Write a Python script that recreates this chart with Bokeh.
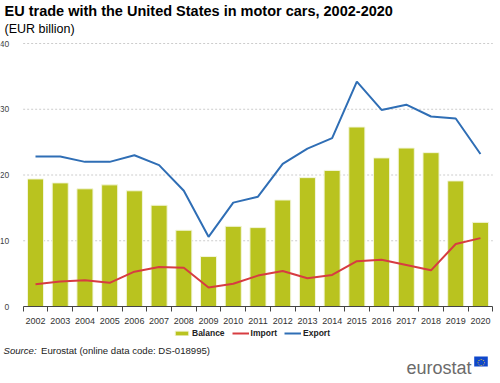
from bokeh.plotting import figure
from bokeh.models import (ColumnDataSource, FixedTicker, Legend, LegendItem, Label,
                          Range1d)
from bokeh.embed import file_html
from bokeh.resources import INLINE

years = [2002, 2003, 2004, 2005, 2006, 2007, 2008, 2009, 2010, 2011,
         2012, 2013, 2014, 2015, 2016, 2017, 2018, 2019, 2020]
balance = [19.4, 18.8, 17.9, 18.5, 17.6, 15.4, 11.6, 7.6, 12.2, 12.0,
           16.2, 19.6, 20.7, 27.3, 22.6, 24.1, 23.4, 19.1, 12.8]
imports = [3.4, 3.8, 4.0, 3.6, 5.3, 6.0, 5.9, 2.9, 3.45, 4.7,
           5.4, 4.3, 4.8, 6.9, 7.1, 6.3, 5.5, 9.5, 10.4]
exports = [22.8, 22.8, 22.0, 22.0, 23.0, 21.5, 17.6, 10.6, 15.8, 16.7,
           21.7, 24.0, 25.6, 34.2, 29.9, 30.7, 28.9, 28.6, 23.2]
y_ticks = [0, 10, 20, 30, 40]

src = ColumnDataSource(dict(year=years, balance=balance, imp=imports, exp=exports))

FONT = "Liberation Sans"
W, H = 500, 383
p = figure(width=W, height=H, output_backend="svg", toolbar_location=None,
           x_range=Range1d(2000.584, 2020.811), y_range=Range1d(-11.71, 46.54),
           min_border=0)
p.outline_line_color = None

lo, hi = years[0] - 0.5, years[-1] + 0.5

# horizontal dotted grid lines (only across the plotting area)
grid_y = y_ticks[1:]
p.segment(x0=[lo] * len(grid_y), x1=[hi] * len(grid_y), y0=grid_y, y1=grid_y,
          line_color="#cccccc", line_width=1, line_dash="2 2")

r_bar = p.vbar(x="year", top="balance", width=0.65, source=src,
               fill_color="#B9C31F", line_color="#F3F6DC", line_width=1)
r_imp = p.line(x="year", y="imp", source=src, line_color="#D73C41", line_width=2)
r_exp = p.line(x="year", y="exp", source=src, line_color="#2F6EB5", line_width=2)

xa = p.xaxis[0]
xa.fixed_location = 0
xa.bounds = (lo, hi)
xa.ticker = FixedTicker(ticks=years, minor_ticks=[y - 0.5 for y in years] + [hi])
xa.major_tick_out = 0
xa.major_tick_in = 0
xa.minor_tick_out = 5
xa.minor_tick_in = 0
xa.minor_tick_line_color = "#444444"
xa.axis_line_color = "#444444"
xa.major_label_text_font = FONT
xa.major_label_text_font_size = "9px"
xa.major_label_text_color = "#333333"
xa.major_label_standoff = 6

ya = p.yaxis[0]
ya.fixed_location = lo
ya.bounds = (0, 40)
ya.ticker = FixedTicker(ticks=y_ticks)
ya.axis_line_color = None
ya.major_tick_line_color = None
ya.minor_tick_line_color = None
ya.major_label_text_font = FONT
ya.major_label_text_font_size = "8.5px"
ya.major_label_text_color = "#444444"
ya.major_label_standoff = 8

p.xgrid.grid_line_color = None
p.ygrid.grid_line_color = None

legend = Legend(items=[LegendItem(label="Balance", renderers=[r_bar]),
                       LegendItem(label="Import", renderers=[r_imp]),
                       LegendItem(label="Export", renderers=[r_exp])],
                orientation="horizontal", location=(173, 45),
                label_text_font=FONT, label_text_font_size="8.5px",
                label_text_font_style="bold", label_text_color="#222222",
                glyph_width=17, glyph_height=6, label_height=10, label_width=10,
                spacing=7, label_standoff=2,
                padding=0, margin=0, border_line_color=None,
                background_fill_alpha=0)
p.add_layout(legend)

p.add_layout(Label(x=4, y=H - 10.5, x_units="screen", y_units="screen",
                   text="EU trade with the United States in motor cars, 2002-2020",
                   text_font=FONT, text_font_size="14.5px", text_font_style="bold",
                   text_color="#000000", text_baseline="middle"))
p.add_layout(Label(x=4, y=H - 28, x_units="screen", y_units="screen",
                   text="(EUR billion)", text_font=FONT, text_font_size="12.5px",
                   text_color="#000000", text_baseline="middle"))
p.add_layout(Label(x=3, y=H - 350, x_units="screen", y_units="screen",
                   text="Source:", text_font=FONT, text_font_size="9.6px",
                   text_font_style="italic", text_color="#222222",
                   text_baseline="middle"))
p.add_layout(Label(x=40.5, y=H - 350, x_units="screen", y_units="screen",
                   text="Eurostat (online data code: DS-018995)", text_font=FONT,
                   text_font_size="9.6px", text_color="#222222",
                   text_baseline="middle"))
p.add_layout(Label(x=406, y=H - 367, x_units="screen", y_units="screen",
                   text="eurostat", text_font=FONT, text_font_size="18px",
                   text_color="#6b6b6b", text_baseline="alphabetic"))
p.add_layout(Label(x=480.5, y=H - 361, x_units="screen", y_units="screen",
                   text="\u00a0\u25cc\u00a0", text_font="DejaVu Sans",
                   text_font_size="9px", text_color="#FFDD00",
                   text_align="center", text_baseline="middle",
                   background_fill_color="#0E47CB"))

open("out.html", "w").write(file_html(p, INLINE))
